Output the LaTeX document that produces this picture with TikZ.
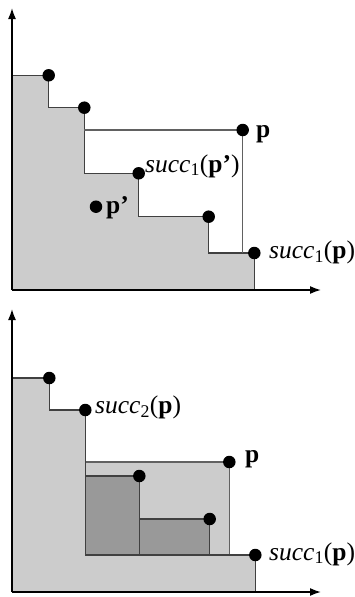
\documentclass[tikz,border=0pt]{standalone}
\usepackage{fontspec}
\setmainfont{Liberation Serif}
\usetikzlibrary{arrows.meta}
\definecolor{lightfill}{gray}{0.8}
\definecolor{darkfill}{gray}{0.6}
\definecolor{stair}{gray}{0.25}
\definecolor{boxline}{gray}{0.38}
\begin{document}
\begin{tikzpicture}[x=1pt,y=-1pt,
  dot/.style={circle,fill=black,minimum size=12.5pt,inner sep=0pt},
  axis/.style={line width=1.6pt,-{Latex[length=11pt,width=8pt]}},
  stairline/.style={draw=stair,line width=1.2pt},
  boxedge/.style={draw=boxline,line width=1.2pt},
  lbl/.style={anchor=base west,inner sep=0pt,font=\fontsize{25.5}{30}\selectfont}]
\useasboundingbox (0,0) rectangle (355,597);
% ---------- top panel ----------
\coordinate (O1) at (12,290);
\coordinate (Y1) at (12,8);
\coordinate (X1) at (321,290);
\coordinate (a1) at (48.7,75.3);
\coordinate (a2) at (84.3,107.7);
\coordinate (a3) at (138.7,173.3);
\coordinate (a4) at (208.7,216.7);
\coordinate (a5) at (254.3,253);
\coordinate (p1) at (242.7,130);
\coordinate (q1) at (96,206.7);
\fill[lightfill] (O1) |- (a1) |- (a2) |- (a3) |- (a4) |- (a5) -- (a5 |- O1) -- cycle;
\draw[stairline] (O1 |- a1) -- (a1) |- (a2) |- (a3) |- (a4) |- (a5) -- (a5 |- O1);
\draw[boxedge] (a2 |- p1) -- (p1) -- (p1 |- a5);
\draw[axis] (O1) -- (Y1);
\draw[axis] (O1) -- (X1);
\node[dot] (da1) at (a1) {};
\node[dot] (da2) at (a2) {};
\node[dot] (da3) at (a3) {};
\node[dot] (da4) at (a4) {};
\node[dot] (da5) at (a5) {};
\node[dot] (dp1) at (p1) {};
\node[dot] (dq1) at (q1) {};
\node[lbl] (lp1) at (256,137) {\textbf{p}};
\node[lbl] (la3) at (145,172) {\textit{succ}\textsubscript{1}(\textbf{p’})};
\node[lbl] (lq1) at (106,213) {\textbf{p’}};
\node[lbl] (la5) at (269,258.5) {\textit{succ}\textsubscript{1}(\textbf{p})};
% ---------- bottom panel ----------
\coordinate (O2) at (12,592);
\coordinate (Y2) at (12,309);
\coordinate (X2) at (321,592);
\coordinate (b1) at (49.3,378);
\coordinate (b2) at (85.3,410);
\coordinate (b3) at (255.3,555);
\coordinate (p2) at (229.3,462);
\coordinate (c1) at (139.3,476);
\coordinate (c2) at (209.7,519);
\fill[lightfill] (O2) |- (b1) |- (b2) |- (b3) -- (b3 |- O2) -- cycle;
\fill[lightfill] (b2 |- p2) rectangle (p2 |- b3);
\draw[boxedge] (b2 |- p2) -- (p2) -- (p2 |- b3);
\filldraw[fill=darkfill,stairline] (b2 |- c1) rectangle (c1 |- b3);
\filldraw[fill=darkfill,stairline] (c1 |- c2) rectangle (c2 |- b3);
\draw[stairline] (O2 |- b1) -- (b1) |- (b2) |- (b3) -- (b3 |- O2);
\draw[axis] (O2) -- (Y2);
\draw[axis] (O2) -- (X2);
\node[dot] (db1) at (b1) {};
\node[dot] (db2) at (b2) {};
\node[dot] (db3) at (b3) {};
\node[dot] (dp2) at (p2) {};
\node[dot] (dc1) at (c1) {};
\node[dot] (dc2) at (c2) {};
\node[lbl] (lb2) at (95,413.5) {\textit{succ}\textsubscript{2}(\textbf{p})};
\node[lbl] (lp2) at (245,462) {\textbf{p}};
\node[lbl] (lb3) at (269,560) {\textit{succ}\textsubscript{1}(\textbf{p})};
\end{tikzpicture}
\end{document}
